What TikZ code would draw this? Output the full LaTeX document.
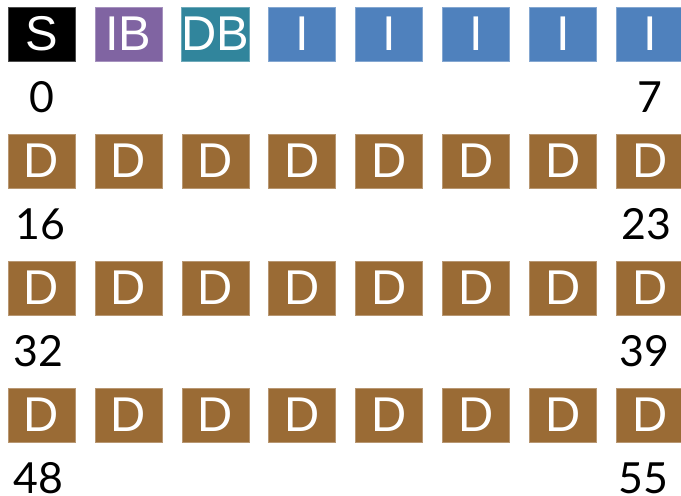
\documentclass[tikz,border=0pt]{standalone}
\usepackage{fontspec}
\setmainfont{Liberation Sans}
\newfontfamily\numfont{Lato}
\definecolor{cS}{HTML}{000000}
\definecolor{cIB}{HTML}{8064A2}
\definecolor{cDB}{HTML}{31859C}
\definecolor{cI}{HTML}{4F81BD}
\definecolor{cD}{HTML}{9A6B35}
\begin{document}
\begin{tikzpicture}[x=1bp,y=-1bp,
  cell/.style={minimum width=67bp,minimum height=54bp,inner sep=0pt,text=white,
    font=\fontsize{49}{49}\selectfont, draw=#1!70!white, line width=0.6bp, fill=#1},
  idx/.style={font=\numfont\fontsize{43}{43}\selectfont,inner sep=0pt}]
\useasboundingbox (0,0) rectangle (681,496);
\node[cell=cS] (c00) at (41.5,34) {S};
\node[cell=cIB] (c01) at (128.4,34) {IB};
\node[cell=cDB] (c02) at (215.3,34) {DB};
\foreach \i in {3,...,7}{
  \node[cell=cI] (c0\i) at (41.5+86.9*\i,34) {I};
}
\foreach \j in {1,2,3}{
  \foreach \i in {0,...,7}{
    \node[cell=cD] (c\j\i) at (41.5+86.9*\i,34+127*\j) {D};
  }
}
\node[idx] (l0) at (41.5,97) {0};
\node[idx] (l7) at (649.8,97) {7};
\node[idx] (l16) at (40,224) {16};
\node[idx] (l23) at (646,224) {23};
\node[idx] (l32) at (38,351) {32};
\node[idx] (l39) at (644,351) {39};
\node[idx] (l48) at (38,478) {48};
\node[idx] (l55) at (643,478) {55};
\end{tikzpicture}
\end{document}
